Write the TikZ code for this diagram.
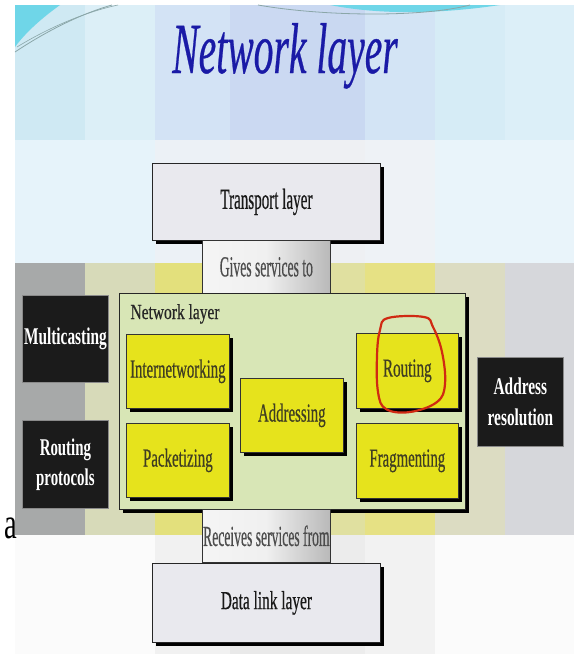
\documentclass[tikz,border=0pt]{standalone}
\usepackage{fontspec}
\setmainfont{Liberation Serif}
\newfontfamily\heavyserif{Liberation Serif}[FakeBold=0.7]
\newfontfamily\heavyitalic{Liberation Serif Italic}[FakeBold=0.6]
\usepackage{graphicx}
\usetikzlibrary{shadows}
\newcommand\sqz[2]{\scalebox{#1}[1]{#2}}

\definecolor{titleblue}{HTML}{1A1AA6}
\definecolor{swcyan}{HTML}{6FD6E8}
\definecolor{swline}{HTML}{8AA6A8}
\definecolor{layerfill}{HTML}{E9E9EE}
\definecolor{netfill}{HTML}{D8E6B6}
\definecolor{yelfill}{HTML}{E6E31C}
\definecolor{yeltext}{HTML}{403E22}
\definecolor{darkfill}{HTML}{1B1B1B}
\definecolor{darkedge}{HTML}{8A8A8A}
\definecolor{loopred}{HTML}{D02A12}

\tikzset{
  shadowed/.style={drop shadow={shadow xshift=4pt,shadow yshift=-4pt,fill=black,opacity=1}},
  layerbox/.style={draw=black!85,line width=0.8pt,fill=layerfill,shadowed,
    inner sep=0pt,anchor=north west,text=black!90},
  svcbox/.style={draw=black!80,line width=0.7pt,left color=gray!8,right color=gray!55,
    middle color=gray!12,inner sep=0pt,anchor=north west,text=black!70},
  yelbox/.style={draw=black!80,line width=0.7pt,fill=yelfill,shadowed,
    inner sep=0pt,anchor=north west,text=yeltext},
  darkbox/.style={draw=darkedge,line width=0.8pt,fill=darkfill,
    inner sep=0pt,anchor=north west,text=white,align=center},
  txtA/.style={font=\fontsize{26}{28}\heavyserif},
  txtB/.style={font=\fontsize{29}{31}\heavyserif},
  txtD/.style={font=\fontsize{24}{31}\selectfont\bfseries},
}

\begin{document}
\begin{tikzpicture}[x=1pt,y=-1pt]
\useasboundingbox (0,0) rectangle (574,654);
\fill[white] (0,0) rectangle (574,654);

% slide background: top band
\foreach \xa/\xb/\c in {15/85/CFE9F3,85/155/DCEFF7,155/230/D3E3F5,230/300/CBD9F2,
    300/365/C9D8F1,365/435/D3E4F5,435/505/D6ECF6,505/574/DCEFF8}
  {\definecolor{colc}{HTML}{\c}\fill[colc] (\xa,5) rectangle (\xb,141);}
% pale middle band
\foreach \xa/\xb/\c in {15/155/E6F3FA,155/230/ECF1F6,230/365/EEF0F3,365/435/EEF2F6,435/574/E9F4FA}
  {\definecolor{colc}{HTML}{\c}\fill[colc] (\xa,140) rectangle (\xb,264);}
% coloured strip behind the diagram
\foreach \xa/\xb/\c in {15/85/A7A9A9,85/155/D7DAB9,155/230/E3E07C,230/365/E0E0A0,
    365/435/E6E184,435/505/DCDCC2,505/574/D6D7DB}
  {\definecolor{colc}{HTML}{\c}\fill[colc] (\xa,263) rectangle (\xb,536);}
% light lower band
\foreach \xa/\xb/\c in {15/155/FBFBFB,155/230/F1F1F1,230/300/E9E9E9,300/365/ECECEC,
    365/435/F2F2F2,435/574/FBFBFB}
  {\definecolor{colc}{HTML}{\c}\fill[colc] (\xa,535) rectangle (\xb,654);}

% decorative swooshes at the top
\fill[swcyan] (15,5) -- (60,5) .. controls (42,18) and (26,32) .. (15,47) -- cycle;
\draw[swline,line width=0.8pt] (15,52) .. controls (45,32) and (80,14) .. (112,5);
\draw[swline,line width=0.6pt] (17,47) .. controls (48,28) and (85,12) .. (118,5);
\fill[swcyan] (330,5) .. controls (380,15) and (440,14) .. (500,5) -- cycle;
\draw[swline,line width=0.8pt] (258,5) .. controls (320,16) and (420,18) .. (470,5);

% title
\node[anchor=base,text=titleblue,font=\fontsize{72}{80}\heavyitalic]
  (title) at (285,73) {\sqz{0.55}{Network layer}};

% upper and lower neighbouring layers
\node[layerbox,minimum width=228pt,minimum height=77pt,txtB] (transport) at (152,163)
  {\sqz{0.52}{Transport layer}};
\node[svcbox,minimum width=128pt,minimum height=53pt,txtB] (gives) at (202,240)
  {\sqz{0.47}{Gives services to}};

% the network layer and its duties
\node[layerbox,fill=netfill,minimum width=346pt,minimum height=216pt] (net) at (119,293) {};
\node[anchor=base west,font=\fontsize{21.5}{24}\heavyserif,text=black!85] (netlbl) at (127,319)
  {\sqz{0.72}{Network layer}};

\node[yelbox,minimum width=103pt,minimum height=74pt,txtA] (inter) at (126,334)
  {\sqz{0.57}{Internetworking}};
\node[yelbox,minimum width=103pt,minimum height=74pt,txtA] (pack) at (126,423)
  {\sqz{0.575}{Packetizing}};
\node[yelbox,minimum width=103pt,minimum height=74pt,txtA] (addr) at (240,378)
  {\sqz{0.57}{Addressing}};
\node[yelbox,minimum width=102pt,minimum height=75pt,txtA] (rout) at (356,333)
  {\sqz{0.58}{Routing}};
\node[yelbox,minimum width=102pt,minimum height=75pt,txtA] (frag) at (356,423)
  {\sqz{0.57}{Fragmenting}};

% related protocols
\node[darkbox,minimum width=86pt,minimum height=87pt,txtD] (multi) at (22,295)
  {\sqz{0.64}{Multicasting}};
\node[darkbox,minimum width=86pt,minimum height=88pt,txtD] (rproto) at (22,420)
  {\sqz{0.62}{Routing}\\[-1pt]\sqz{0.62}{protocols}};
\node[darkbox,minimum width=86pt,minimum height=89pt,txtD] (ares) at (477,357)
  {\sqz{0.64}{Address}\\\sqz{0.64}{resolution}};

\node[svcbox,minimum width=128pt,minimum height=53pt,txtB] (recv) at (202,509)
  {\sqz{0.47}{Receives services from}};
\node[layerbox,minimum width=228pt,minimum height=79pt,txtA] (dlink) at (152,563)
  {\sqz{0.59}{Data link layer}};

% hand-drawn mark around Routing
\draw[loopred,line width=2.2pt] plot[smooth cycle,tension=0.65] coordinates
  {(388,318) (424,317) (433,327) (442,352) (445,384) (437,402) (410,412) (386,409)
   (378,392) (377,356) (380,330)};

% stray letter at the left margin
\node[anchor=base west,font=\fontsize{44}{48}\selectfont] (stray) at (1,538) {\sqz{0.65}{a}};
\end{tikzpicture}
\end{document}
